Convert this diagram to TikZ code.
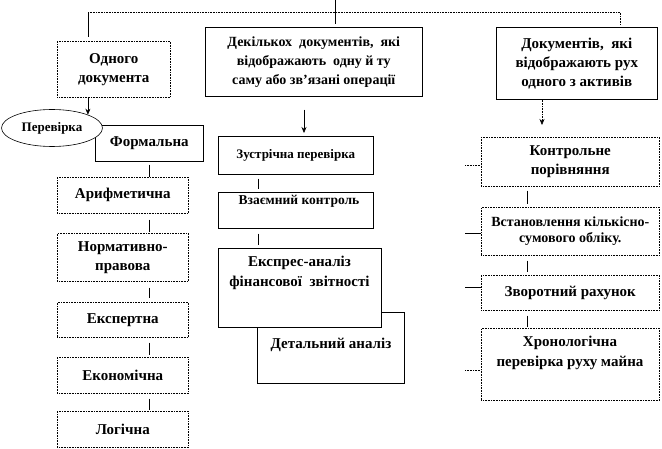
\documentclass[tikz,border=0pt]{standalone}
\usepackage{fontspec}
\setmainfont{Liberation Serif}[BoldFont={Liberation Serif Bold}]
\usetikzlibrary{shapes.geometric,arrows.meta}
\begin{document}
\begin{tikzpicture}[x=1pt,y=-1pt,
  box/.style={draw,line width=0.6pt,rectangle,anchor=north west,inner sep=0pt,fill=white,
    font=\fontsize{15}{19}\selectfont\bfseries,align=center},
  dbox/.style={box,densely dotted},
  small/.style={font=\fontsize{13}{15}\selectfont\bfseries},
  txt/.style={inner sep=0pt,align=center,font=\fontsize{15}{20}\selectfont\bfseries},
  ln/.style={line width=0.6pt},
  dln/.style={line width=0.6pt,densely dotted},
  arr/.style={line width=0.6pt,-{Stealth[length=6pt,width=5pt]}}]
\useasboundingbox (0,0) rectangle (662,449);
% top boxes
\node[dbox,minimum width=113,minimum height=56] (odn) at (57,41) {Одного\\документа};
\node[box,minimum width=217,minimum height=69,font=\fontsize{14}{19}\selectfont\bfseries] (dek) at (205,27) {Декількох \ документів, \ які\\відображають \ одну й ту\\саму або зв'язані операції};
\node[box,minimum width=161,minimum height=72] (dok) at (496,27) {Документів, \ які\\відображають рух\\одного з активів};
% bus
\coordinate (c0) at (335,0);
\coordinate (c1) at (335,24);
\coordinate (bl) at (88,12);
\coordinate (br) at (620,12);
\coordinate (ble) at (88,37);
\coordinate (bre) at (620,25);
\draw[ln] (c0) -- (c1);
\draw[ln] (ble) -- (bl);
\draw[dln] (bl) -- (br) -- (bre);
% left column
\node[box,minimum width=108,minimum height=36] (form) at (95,125) {Формальна};
\node[draw,ellipse,line width=0.6pt,fill=white,minimum width=101,minimum height=37,inner sep=0pt,small] (ell) at (52,128) {Перевірка};
\node[dbox,minimum width=131,minimum height=36] (ar) at (57,177) {Арифметична};
\node[dbox,minimum width=131,minimum height=48] (norm) at (57,233) {Нормативно-\\правова};
\node[dbox,minimum width=131,minimum height=35] (eksp) at (57,302) {Експертна};
\node[dbox,minimum width=131,minimum height=36] (ekon) at (57,357) {Економічна};
\node[dbox,minimum width=131,minimum height=36] (log) at (57,411) {Логічна};
\draw[arr] (odn.south -| ell.north east) -- (ell.north east);
\draw[ln,shorten <=3pt] (form.south) -- (form.south |- ar.north);
\draw[ln,shorten <=6pt,shorten >=1pt] (ar.south -| form.south) -- (norm.north -| form.south);
\draw[ln,shorten <=6pt,shorten >=4pt] (norm.south -| form.south) -- (eksp.north -| form.south);
\draw[ln,shorten <=5pt,shorten >=2pt] (eksp.south -| form.south) -- (ekon.north -| form.south);
\draw[ln,shorten <=5pt,shorten >=1pt] (ekon.south -| form.south) -- (log.north -| form.south);
% middle column
\node[box,minimum width=155,minimum height=38,small] (zus) at (218,136) {Зустрічна перевірка};
\node[box,minimum width=155,minimum height=36] (vz) at (218,192) {};
\node[txt,font=\fontsize{13.5}{15}\selectfont\bfseries] (vzt) at (299,201) {Взаємний контроль};
\node[box,minimum width=147,minimum height=71] (det) at (257,312) {};
\node[txt] (dett) at (331,345) {Детальний аналіз};
\node[box,minimum width=163,minimum height=79] (ekspr) at (218,248) {};
\node[txt] (eksprt) at (299.5,272.5) {Експрес-аналіз\\фінансової \ звітності};
\coordinate (ma) at (304,0);
\coordinate (mb) at (258,0);
\draw[arr,shorten <=13pt,shorten >=3pt] (dek.south -| ma) -- (zus.north -| ma);
\draw[ln,shorten <=4pt,shorten >=3pt] (zus.south -| mb) -- (vz.north -| mb);
\draw[ln,shorten <=5pt,shorten >=3pt] (vz.south -| mb) -- (ekspr.north -| mb);
% right column
\node[dbox,minimum width=178,minimum height=49] (kontr) at (481,137) {Контрольне\\порівняння};
\node[dbox,minimum width=178,minimum height=48,font=\fontsize{14}{16}\selectfont\bfseries] (vst) at (481,207) {Встановлення кількісно-\\сумового обліку.};
\node[dbox,minimum width=178,minimum height=35] (zvor) at (481,275) {Зворотний рахунок};
\node[dbox,minimum width=178,minimum height=72] (hron) at (481,328) {};
\node[txt] (hront) at (570,353) {Хронологічна\\перевірка руху майна};
\coordinate (rc) at (542,0);
\coordinate (rd) at (527,0);
\draw[arr,densely dotted,shorten >=12pt] (dok.south -| rc) -- (kontr.north -| rc);
\draw[ln,shorten <=4pt,shorten >=3pt] (kontr.south -| rd) -- (vst.north -| rd);
\draw[ln,shorten <=5pt,shorten >=3pt] (vst.south -| rd) -- (zvor.north -| rd);
\draw[ln,shorten <=5pt,shorten >=1pt] (zvor.south -| rd) -- (hron.north -| rd);
\coordinate (t1) at (465,165);
\coordinate (t2) at (465,233);
\coordinate (t3) at (465,287);
\coordinate (t4) at (465,370);
\draw[dln] (t1) -- (t1 -| kontr.west);
\draw[ln] (t2) -- (t2 -| vst.west);
\draw[ln] (t3) -- (t3 -| zvor.west);
\draw[dln] (t4) -- (t4 -| hron.west);
\end{tikzpicture}
\end{document}
